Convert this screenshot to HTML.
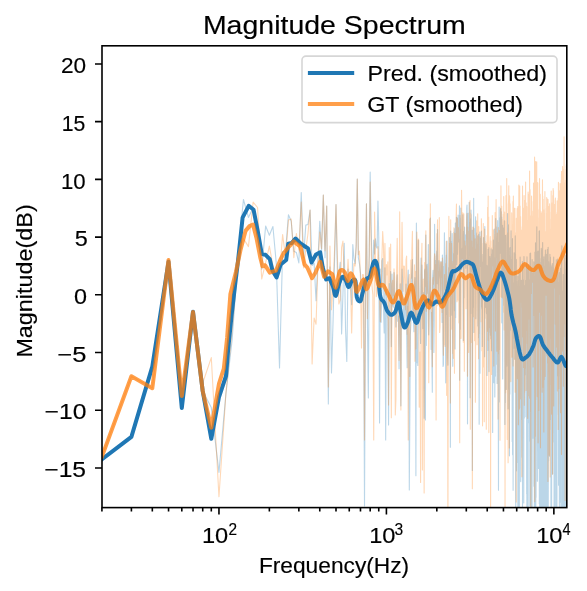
<!DOCTYPE html><html><head><meta charset="utf-8"><style>html,body{margin:0;padding:0;background:#fff;overflow:hidden}svg{display:block}</style></head><body><div style="will-change:transform"><svg width="587" height="591" viewBox="0 0 587 591">
<defs><clipPath id="ax"><rect x="102.0" y="45.8" width="464.8" height="461.8"/></clipPath></defs>
<rect width="587" height="591" fill="#fff"/>
<g clip-path="url(#ax)">
<g opacity="0.3"><polyline fill="none" stroke="#1f77b4" stroke-width="1.1" stroke-linejoin="round" points="101.92,459.30 131.40,436.89 152.32,366.44 168.55,262.38 181.81,407.90 193.02,311.98 202.73,391.00 211.30,407.60 218.96,472.40 225.89,394.00 232.22,339.07 238.04,256.46 243.43,199.50 248.45,217.43 253.14,207.63 257.55,226.02 261.71,269.11 265.64,226.00 269.37,235.22 272.92,226.50 276.30,263.70 279.53,368.00 282.63,251.49 285.60,251.00 288.45,214.80 291.19,221.18 293.84,251.23 296.39,252.44 298.85,262.96 301.24,192.50 303.55,257.50 305.79,225.10 307.96,224.52 310.06,210.00 312.11,265.54 314.11,263.11 316.04,300.65 317.93,260.41 319.77,221.37 321.57,251.11 323.32,195.00 325.03,257.67 326.71,206.00 328.34,404.00 329.94,266.91 331.50,373.00 333.03,322.41 334.53,261.40 336.00,204.50 337.44,276.94 338.85,273.87 340.24,262.35 341.60,334.00 342.93,294.86 344.24,243.38 345.53,328.43 346.80,361.49 348.04,269.12 349.26,289.01 350.46,281.71 351.65,304.79 352.81,244.62 353.95,258.57 355.08,263.65 356.19,244.35 357.29,179.00 358.36,257.60 359.43,263.56 360.47,272.83 361.50,289.02 362.52,282.64 363.52,277.89 364.51,506.00 365.49,298.33 366.45,203.70 367.40,317.83 368.34,398.00 369.27,246.47 370.18,172.00 371.09,224.93 371.98,260.55 372.86,269.85 373.73,240.15 374.59,254.09 375.44,238.84 376.28,247.04 377.11,248.14 377.94,201.00 378.75,236.74 379.55,423.00 380.35,268.97 381.13,322.22 381.91,260.81 382.68,258.55 383.44,306.56 384.19,333.01 384.94,267.68 385.68,440.00 386.41,289.02 387.13,314.34 387.85,318.91 388.56,424.98 389.26,283.60 389.96,295.29 390.65,271.58 391.33,346.58 392.01,274.03 392.68,304.88 393.34,307.16 394.00,272.50 394.65,300.50 395.30,301.22 395.94,326.90 396.57,284.23 397.20,274.91 397.83,321.29 398.45,316.06 399.06,368.78 399.67,306.93 400.27,283.70 400.87,405.84 401.46,304.20 402.05,269.10 402.64,280.01 403.22,327.68 403.79,323.31 404.36,297.86 404.93,328.41 405.49,306.39 406.05,284.06 406.60,324.65 407.15,367.72 407.69,281.77 408.23,270.09 408.77,300.34 409.30,490.00 409.83,413.12 410.36,334.52 410.88,323.37 411.40,279.39 411.91,269.05 412.42,259.49 412.93,314.37 413.43,318.90 413.93,331.74 414.43,284.96 414.92,277.61 415.41,293.59 415.90,475.75 416.38,223.00 416.86,362.71 417.34,351.12 417.81,365.40 418.28,240.37 418.75,282.25 419.21,305.28 419.68,319.62 420.13,324.04 420.59,343.39 421.04,258.12 421.49,303.18 421.94,265.15 422.39,291.14 422.83,328.59 423.27,307.23 423.70,292.43 424.14,418.16 424.57,270.93 425.00,269.05 425.43,420.00 425.85,235.09 426.27,345.52 426.69,320.19 427.11,264.42 427.52,293.35 427.93,279.33 428.34,244.62 428.75,334.83 429.16,305.76 429.56,298.73 429.96,274.05 430.36,218.10 430.75,281.86 431.15,349.43 431.54,312.50 431.93,359.66 432.32,392.17 432.70,276.38 433.09,270.19 433.47,283.67 433.85,352.53 434.23,320.70 434.60,224.33 434.98,280.62 435.35,260.27 435.72,300.37 436.09,303.48 436.45,256.94 436.82,251.04 437.18,283.66 437.54,229.44 437.90,274.45 438.26,296.02 438.61,270.61 438.97,260.60 439.32,265.59 439.67,276.55 440.02,279.72 440.37,296.80 440.71,263.86 441.05,261.21 441.40,269.69 441.74,291.11 442.08,322.41 442.41,255.08 442.75,262.02 443.08,366.41 443.42,364.80 443.75,266.40 444.08,289.21 444.41,232.79 444.73,252.76 445.06,264.26 445.38,312.12 445.71,382.84 446.03,353.73 446.35,255.32 446.66,314.38 446.98,241.04 447.30,278.12 447.61,356.61 447.92,365.13 448.24,284.85 448.55,267.66 448.85,274.07 449.16,261.85 449.47,237.54 449.77,293.90 450.08,241.84 450.38,447.32 450.68,230.98 450.98,276.31 451.28,270.94 451.58,241.67 451.87,315.32 452.17,233.57 452.46,254.05 452.75,366.27 453.05,309.44 453.34,253.68 453.62,291.18 453.91,260.13 454.20,232.29 454.49,310.69 454.77,228.87 455.05,348.97 455.34,223.42 455.62,317.59 455.90,222.43 456.18,233.61 456.45,217.37 456.73,264.58 457.01,259.22 457.28,217.94 457.56,254.20 457.83,241.83 458.10,215.07 458.37,230.25 458.64,242.00 458.91,239.42 459.18,231.12 459.45,205.71 459.71,380.20 459.98,218.10 460.24,329.22 460.50,273.79 460.77,207.98 461.03,227.10 461.29,260.42 461.55,269.46 461.80,249.78 462.06,248.72 462.32,255.65 462.57,261.81 462.83,214.73 463.08,252.66 463.34,340.45 463.59,237.72 463.84,297.86 464.09,231.26 464.34,265.05 464.59,227.08 464.83,264.52 465.08,248.11 465.33,234.80 465.57,235.59 465.82,268.13 466.06,239.20 466.30,238.42 466.55,231.10 466.79,207.75 467.03,204.94 467.27,248.42 467.51,423.87 467.74,241.53 467.98,247.09 468.22,213.27 468.45,262.58 468.69,264.92 468.92,238.45 469.16,202.28 469.39,252.08 469.62,232.89 469.85,222.61 470.08,397.69 470.31,351.94 470.54,218.72 470.77,313.39 471.00,210.07 471.22,221.21 471.45,264.78 471.68,266.54 471.90,271.52 472.12,230.42 472.35,470.53 472.57,241.75 472.79,307.31 473.01,240.83 473.24,227.00 473.46,252.69 473.67,198.28 473.89,332.41 474.11,228.43 474.33,256.13 474.55,256.36 474.76,254.05 474.98,238.73 475.19,266.43 475.41,229.23 475.62,216.78 475.83,318.77 476.05,232.71 476.26,233.88 476.47,243.32 476.68,272.78 476.89,255.45 477.10,258.49 477.31,244.33 477.51,262.20 477.72,235.75 477.93,326.00 478.13,289.31 478.34,271.74 478.55,337.63 478.75,234.24 478.95,311.68 479.16,424.19 479.36,310.42 479.56,316.24 479.76,231.98 479.97,373.16 480.17,252.88 480.37,264.13 480.57,266.55 480.76,238.40 480.96,242.30 481.16,244.16 481.36,231.00 481.56,306.94 481.75,302.06 481.95,309.08 482.14,262.28 482.34,346.47 482.53,276.24 482.73,269.05 482.92,254.22 483.11,275.03 483.30,295.24 483.49,237.51 483.69,274.79 483.88,262.50 484.07,283.69 484.26,292.03 484.45,243.09 484.63,356.76 484.82,226.62 485.01,274.15 485.20,276.68 485.38,296.57 485.57,268.20 485.76,307.36 485.94,251.35 486.13,243.97 486.31,295.67 486.49,313.73 486.68,299.31 486.86,265.71 487.04,375.51 487.22,265.80 487.41,303.65 487.59,333.10 487.77,350.41 487.95,283.89 488.13,249.21 488.31,270.38 488.49,259.70 488.67,276.36 488.84,247.49 489.02,371.61 489.20,281.11 489.37,284.05 489.55,332.31 489.73,309.56 489.90,256.50 490.08,315.31 490.25,258.22 490.43,335.16 490.60,261.60 490.77,263.30 490.95,338.77 491.12,248.75 491.29,284.54 491.46,340.10 491.63,350.66 491.80,292.06 491.98,261.28 492.15,254.13 492.31,288.28 492.48,249.77 492.65,432.43 492.82,301.87 492.99,294.56 493.16,268.54 493.33,240.12 493.49,246.31 493.66,291.05 493.82,382.71 493.99,249.14 494.16,354.64 494.32,229.10 494.49,348.50 494.65,272.81 494.81,396.90 494.98,364.65 495.14,257.92 495.30,260.23 495.47,376.08 495.63,250.36 495.79,218.63 495.95,244.76 496.11,364.24 496.27,226.78 496.43,259.16 496.59,267.50 496.75,238.63 496.91,237.99 497.07,383.47 497.23,248.35 497.39,254.56 497.55,228.12 497.70,220.67 497.86,279.58 498.02,242.23 498.17,264.19 498.33,428.77 498.49,490.23 498.64,308.96 498.80,354.21 498.95,275.99 499.11,207.09 499.26,401.94 499.42,217.65 499.57,252.46 499.72,246.19 499.88,242.24 500.03,236.80 500.18,253.16 500.33,241.15 500.48,228.93 500.64,208.23 500.79,230.86 500.94,256.02 501.09,261.38 501.24,211.68 501.39,246.33 501.54,260.84 501.69,216.96 501.83,322.84 501.98,285.05 502.13,277.41 502.28,320.26 502.43,288.59 502.57,225.31 502.72,378.99 502.87,284.06 503.01,303.19 503.16,305.25 503.31,228.10 503.45,285.60 503.60,239.69 503.74,244.96 503.89,276.22 504.03,230.04 504.18,232.06 504.32,220.71 504.46,247.56 504.61,244.86 504.75,250.26 504.89,424.53 505.04,390.61 505.18,273.19 505.32,402.51 505.46,235.39 505.60,238.22 505.74,252.30 505.88,348.72 506.02,274.58 506.16,389.57 506.30,302.88 506.44,271.90 506.58,259.93 506.72,299.77 506.86,366.12 507.00,234.85 507.14,245.32 507.28,239.39 507.42,241.87 507.55,213.52 507.69,335.07 507.83,254.34 507.96,273.33 508.10,408.83 508.24,231.24 508.37,224.79 508.51,233.36 508.64,261.71 508.78,256.99 508.91,247.92 509.05,285.08 509.18,389.37 509.32,282.35 509.45,455.83 509.59,255.66 509.72,292.80 509.85,394.01 509.99,328.24 510.12,247.47 510.25,260.00 510.38,265.65 510.52,330.21 510.65,248.44 510.78,325.40 510.91,263.11 511.04,230.77 511.17,263.25 511.30,269.44 511.43,283.49 511.56,259.26 511.69,307.66 511.82,281.59 511.95,263.25 512.08,309.87 512.21,441.54 512.34,320.26 512.47,238.64 512.60,454.67 512.73,274.70 512.85,424.98 512.98,328.86 513.11,490.14 513.24,343.48 513.36,302.28 513.49,282.71 513.62,311.15 513.74,333.70 513.87,348.24 513.99,297.63 514.12,252.81 514.25,343.22 514.37,294.31 514.50,312.12 514.62,267.54 514.75,278.89 514.87,359.08 514.99,306.70 515.12,320.56 515.24,235.69 515.37,258.17 515.49,254.12 515.61,304.94 515.74,540.00 515.86,258.95 515.98,429.13 516.10,368.08 516.22,375.26 516.35,259.44 516.47,470.85 516.59,280.94 516.71,288.43 516.83,462.55 516.95,383.50 517.07,408.12 517.19,289.02 517.31,291.06 517.44,327.89 517.55,298.36 517.67,360.33 517.79,276.02 517.91,540.00 518.03,294.25 518.15,280.29 518.27,290.29 518.39,346.37 518.51,399.19 518.63,338.00 518.74,326.76 518.86,540.00 518.98,271.65 519.10,355.60 519.21,354.17 519.33,540.00 519.45,336.91 519.56,327.19 519.68,324.72 519.80,332.07 519.91,314.21 520.03,407.42 520.14,257.00 520.26,268.20 520.37,286.10 520.49,346.69 520.61,356.35 520.72,481.61 520.83,429.16 520.95,294.72 521.06,323.20 521.18,316.29 521.29,395.14 521.40,280.40 521.52,301.28 521.63,419.30 521.74,317.58 521.86,302.81 521.97,302.58 522.08,384.39 522.20,457.35 522.31,287.44 522.42,261.48 522.53,533.39 522.64,282.46 522.76,340.86 522.87,374.53 522.98,339.56 523.09,280.04 523.20,415.55 523.31,347.01 523.42,317.49 523.53,285.71 523.64,379.25 523.75,502.99 523.86,303.34 523.97,256.55 524.08,269.19 524.19,328.89 524.30,418.10 524.41,374.28 524.52,319.45 524.63,328.43 524.74,285.82 524.84,294.64 524.95,374.72 525.06,291.95 525.17,333.51 525.28,358.02 525.38,352.49 525.49,305.82 525.60,280.24 525.71,343.57 525.81,305.96 525.92,416.72 526.03,267.73 526.13,263.87 526.24,335.95 526.35,272.91 526.45,316.73 526.56,355.77 526.66,493.77 526.77,332.55 526.88,535.78 526.98,256.91 527.09,346.61 527.19,517.98 527.30,284.26 527.40,510.29 527.50,485.45 527.61,270.41 527.71,268.36 527.82,297.17 527.92,320.34 528.03,519.22 528.13,540.00 528.23,292.02 528.34,335.46 528.44,302.24 528.54,264.83 528.65,273.57 528.75,422.77 528.85,310.99 528.95,290.20 529.06,324.07 529.16,279.83 529.26,291.27 529.36,296.24 529.46,322.65 529.57,441.29 529.67,288.84 529.77,344.38 529.87,505.89 529.97,253.64 530.07,405.51 530.17,390.10 530.27,391.78 530.37,372.87 530.47,504.71 530.57,253.12 530.67,282.66 530.77,467.11 530.87,492.09 530.97,301.16 531.07,538.84 531.17,401.15 531.27,320.29 531.37,416.72 531.47,365.73 531.57,284.28 531.67,267.85 531.77,287.03 531.86,295.61 531.96,325.45 532.06,540.00 532.16,259.66 532.26,324.30 532.35,326.64 532.45,326.83 532.55,360.39 532.65,284.69 532.74,369.25 532.84,404.67 532.94,409.79 533.04,273.08 533.13,438.26 533.23,291.07 533.33,323.53 533.42,295.12 533.52,271.67 533.61,275.69 533.71,305.97 533.81,261.90 533.90,486.20 534.00,324.89 534.09,410.20 534.19,381.14 534.28,296.01 534.38,540.00 534.47,316.87 534.57,337.84 534.66,502.52 534.76,294.87 534.85,540.00 534.95,252.12 535.04,348.82 535.14,274.79 535.23,540.00 535.32,350.54 535.42,341.53 535.51,242.72 535.60,364.78 535.70,373.01 535.79,540.00 535.88,313.67 535.98,360.67 536.07,497.15 536.16,252.37 536.26,400.12 536.35,317.68 536.44,337.93 536.53,295.73 536.63,253.56 536.72,250.77 536.81,226.74 536.90,306.31 536.99,251.50 537.08,318.29 537.18,335.55 537.27,310.67 537.36,481.15 537.45,389.88 537.54,289.68 537.63,270.90 537.72,304.85 537.81,335.45 537.90,444.77 538.00,277.24 538.09,251.10 538.18,366.44 538.27,284.83 538.36,350.38 538.45,252.82 538.54,468.39 538.63,437.25 538.72,356.33 538.80,254.84 538.89,294.99 538.98,266.94 539.07,427.92 539.16,230.99 539.25,283.71 539.34,503.71 539.43,230.73 539.52,461.13 539.61,382.36 539.69,540.00 539.78,270.25 539.87,540.00 539.96,489.64 540.05,339.46 540.13,279.69 540.22,319.17 540.31,278.53 540.40,309.23 540.48,491.84 540.57,305.72 540.66,262.26 540.75,321.76 540.83,337.36 540.92,258.46 541.01,521.70 541.09,396.05 541.18,252.94 541.27,248.40 541.35,285.98 541.44,351.83 541.53,520.36 541.61,369.08 541.70,326.51 541.78,342.51 541.87,540.00 541.96,409.30 542.04,250.08 542.13,540.00 542.21,288.14 542.30,350.36 542.38,310.94 542.47,316.07 542.55,283.50 542.64,242.56 542.72,284.52 542.81,356.85 542.89,284.64 542.98,480.72 543.06,363.48 543.15,540.00 543.23,259.66 543.31,335.77 543.40,363.58 543.48,493.85 543.57,292.03 543.65,534.55 543.73,287.53 543.82,301.50 543.90,256.78 543.98,300.40 544.07,280.62 544.15,344.59 544.23,399.49 544.32,426.06 544.40,272.69 544.48,452.70 544.56,266.46 544.65,384.20 544.73,540.00 544.81,293.37 544.89,380.62 544.98,334.05 545.06,279.71 545.14,254.50 545.22,301.59 545.30,346.02 545.39,250.12 545.47,323.27 545.55,399.22 545.63,540.00 545.71,319.28 545.79,361.27 545.87,301.79 545.96,523.16 546.04,433.07 546.12,254.33 546.20,344.24 546.28,399.48 546.36,500.73 546.44,540.00 546.52,302.50 546.60,340.00 546.68,540.00 546.76,310.00 546.84,298.40 546.92,308.81 547.00,260.86 547.08,276.68 547.16,298.96 547.24,263.03 547.32,249.59 547.40,258.18 547.48,283.77 547.56,273.39 547.64,540.00 547.72,270.86 547.80,322.83 547.88,391.32 547.95,375.65 548.03,338.95 548.11,247.33 548.19,264.25 548.27,540.00 548.35,271.43 548.43,263.22 548.50,459.27 548.58,461.11 548.66,261.65 548.74,263.41 548.82,273.45 548.89,281.87 548.97,275.19 549.05,314.65 549.13,297.36 549.21,360.95 549.28,348.12 549.36,414.49 549.44,456.24 549.51,319.48 549.59,429.52 549.67,361.63 549.75,268.83 549.82,370.33 549.90,254.37 549.98,287.07 550.05,257.89 550.13,314.18 550.21,288.17 550.28,419.49 550.36,304.90 550.44,256.99 550.51,373.78 550.59,343.53 550.66,395.73 550.74,351.98 550.82,265.13 550.89,284.04 550.97,540.00 551.04,465.28 551.12,442.60 551.19,305.55 551.27,320.22 551.34,329.09 551.42,269.88 551.49,540.00 551.57,540.00 551.64,494.97 551.72,274.18 551.79,287.36 551.87,288.09 551.94,266.67 552.02,467.25 552.09,311.68 552.17,305.82 552.24,266.47 552.32,263.58 552.39,265.13 552.46,280.69 552.54,313.77 552.61,474.00 552.69,304.91 552.76,390.09 552.83,322.69 552.91,441.94 552.98,279.53 553.06,284.36 553.13,267.95 553.20,377.91 553.28,299.70 553.35,392.84 553.42,319.07 553.50,326.26 553.57,432.33 553.64,315.94 553.71,257.17 553.79,346.35 553.86,272.93 553.93,374.71 554.01,289.01 554.08,540.00 554.15,273.79 554.22,313.13 554.30,535.00 554.37,416.32 554.44,539.41 554.51,403.18 554.58,453.71 554.66,354.05 554.73,309.68 554.80,356.59 554.87,341.31 554.94,278.23 555.01,353.99 555.09,280.10 555.16,313.44 555.23,298.98 555.30,475.61 555.37,373.29 555.44,295.72 555.51,341.19 555.58,454.10 555.66,516.20 555.73,403.76 555.80,294.71 555.87,298.60 555.94,352.82 556.01,425.91 556.08,268.97 556.15,518.23 556.22,332.10 556.29,259.74 556.36,312.73 556.43,283.16 556.50,347.70 556.57,311.79 556.64,540.00 556.71,269.79 556.78,276.63 556.85,285.47 556.92,540.00 556.99,407.55 557.06,331.32 557.13,274.06 557.20,316.64 557.27,268.25 557.34,276.05 557.41,370.66 557.48,307.24 557.55,375.75 557.62,259.08 557.68,281.64 557.75,296.54 557.82,341.64 557.89,338.72 557.96,269.98 558.03,284.85 558.10,274.52 558.17,320.48 558.23,310.19 558.30,366.75 558.37,282.61 558.44,414.77 558.51,285.44 558.58,485.29 558.64,304.95 558.71,356.82 558.78,332.60 558.85,387.42 558.92,299.29 558.98,354.85 559.05,417.11 559.12,379.23 559.19,288.86 559.25,342.16 559.32,272.49 559.39,540.00 559.46,368.06 559.52,284.56 559.59,277.35 559.66,333.82 559.73,380.90 559.79,302.21 559.86,357.40 559.93,320.18 559.99,379.01 560.06,502.09 560.13,325.64 560.19,274.85 560.26,268.32 560.33,404.23 560.39,277.31 560.46,311.81 560.53,483.15 560.59,337.16 560.66,311.43 560.73,326.17 560.79,311.71 560.86,301.23 560.92,540.00 560.99,333.48 561.06,401.66 561.12,384.99 561.19,252.96 561.25,261.33 561.32,364.39 561.38,290.65 561.45,356.69 561.51,351.51 561.58,268.53 561.65,438.47 561.71,414.97 561.78,279.54 561.84,245.68 561.91,400.25 561.97,280.72 562.04,368.67 562.10,535.88 562.17,493.77 562.23,540.00 562.30,326.90 562.36,376.01 562.43,375.22 562.49,336.04 562.55,337.43 562.62,296.69 562.68,334.52 562.75,443.80 562.81,325.05 562.88,401.86 562.94,290.90 563.00,495.24 563.07,399.74 563.13,336.51 563.20,379.76 563.26,540.00 563.32,274.62 563.39,295.31 563.45,540.00 563.52,439.83 563.58,335.13 563.64,293.57 563.71,377.95 563.77,290.79 563.83,302.39 563.90,299.07 563.96,460.08 564.02,540.00 564.09,416.90 564.15,267.66 564.21,336.40 564.28,250.83 564.34,296.82 564.40,403.03 564.47,540.00 564.53,387.98 564.59,258.36 564.65,308.04 564.72,268.92 564.78,345.39 564.84,399.07 564.90,308.37 564.97,513.03 565.03,336.33 565.09,371.19 565.15,300.43 565.22,307.58 565.28,540.00 565.34,314.67 565.40,281.81 565.46,489.12 565.53,441.60 565.59,313.39 565.65,284.75 565.71,434.75 565.77,540.00 565.83,261.92 565.90,311.63 565.96,255.53 566.02,369.62 566.08,502.83 566.14,299.81 566.20,271.65 566.27,322.20 566.33,410.77 566.39,393.69 566.45,362.98 566.51,524.60 566.57,304.19 566.63,315.00 566.69,423.01 566.75,277.09 566.82,525.77 566.88,310.96 566.94,300.16 567.00,432.46 567.06,413.31 567.12,308.86"/></g>
<g opacity="0.3"><polyline fill="none" stroke="#ff7f0e" stroke-width="1.1" stroke-linejoin="round" points="101.92,456.50 131.40,376.20 152.32,388.00 168.55,260.64 181.81,395.91 193.02,312.18 202.73,383.00 211.30,357.60 218.96,496.80 225.89,394.00 232.22,329.68 238.04,260.15 243.43,238.45 248.45,246.61 253.14,202.10 257.55,207.50 261.71,279.04 265.64,262.66 269.37,246.07 272.92,265.85 276.30,273.97 279.53,273.82 282.63,234.60 285.60,257.55 288.45,220.00 291.19,218.98 293.84,257.64 296.39,233.48 298.85,249.87 301.24,202.00 303.55,268.04 305.79,249.93 307.96,233.79 310.06,210.00 312.11,364.00 314.11,318.02 316.04,324.22 317.93,265.59 319.77,232.11 321.57,248.57 323.32,195.00 325.03,250.63 326.71,206.00 328.34,387.00 329.94,245.93 331.50,309.72 333.03,286.61 334.53,250.46 336.00,204.50 337.44,258.86 338.85,303.99 340.24,299.79 341.60,247.66 342.93,241.14 344.24,275.19 345.53,279.13 346.80,284.25 348.04,259.42 349.26,282.20 350.46,280.75 351.65,333.05 352.81,287.40 353.95,263.57 355.08,266.10 356.19,247.71 357.29,179.00 358.36,254.68 359.43,251.03 360.47,278.04 361.50,348.03 362.52,274.56 363.52,274.72 364.51,440.00 365.49,267.26 366.45,203.70 367.40,318.66 368.34,275.53 369.27,255.17 370.18,182.00 371.09,243.81 371.98,285.53 372.86,294.86 373.73,440.00 374.59,212.00 375.44,259.69 376.28,296.73 377.11,293.28 377.94,246.66 378.75,261.15 379.55,300.36 380.35,321.82 381.13,298.79 381.91,257.29 382.68,231.62 383.44,245.12 384.19,285.75 384.94,243.40 385.68,294.97 386.41,264.61 387.13,275.04 387.85,261.82 388.56,405.00 389.26,247.48 389.96,282.04 390.65,243.95 391.33,417.65 392.01,283.89 392.68,280.41 393.34,295.97 394.00,268.81 394.65,277.10 395.30,415.00 395.94,398.86 396.57,276.80 397.20,238.36 397.83,292.85 398.45,317.86 399.06,360.40 399.67,211.88 400.27,296.94 400.87,410.00 401.46,278.48 402.05,222.39 402.64,265.11 403.22,291.26 403.79,266.09 404.36,266.29 404.93,288.30 405.49,309.67 406.05,259.88 406.60,256.09 407.15,334.28 407.69,306.22 408.23,440.00 408.77,280.66 409.30,274.60 409.83,376.45 410.36,297.92 410.88,259.98 411.40,278.25 411.91,249.24 412.42,231.38 412.93,316.09 413.43,311.94 413.93,307.30 414.43,264.72 414.92,361.25 415.41,271.32 415.90,348.87 416.38,266.15 416.86,232.00 417.34,251.46 417.81,314.71 418.28,239.04 418.75,240.40 419.21,407.11 419.68,401.70 420.13,352.11 420.59,482.44 421.04,275.10 421.49,260.51 421.94,243.22 422.39,470.00 422.83,316.37 423.27,278.97 423.70,354.86 424.14,493.00 424.57,262.50 425.00,286.77 425.43,244.43 425.85,230.68 426.27,311.30 426.69,265.77 427.11,272.27 427.52,289.67 427.93,294.50 428.34,307.95 428.75,382.65 429.16,304.71 429.56,219.00 429.96,306.38 430.36,203.92 430.75,307.49 431.15,300.64 431.54,315.15 431.93,328.01 432.32,366.77 432.70,280.63 433.09,277.48 433.47,284.13 433.85,275.28 434.23,260.36 434.60,253.73 434.98,256.32 435.35,296.33 435.72,264.74 436.09,420.00 436.45,291.62 436.82,233.46 437.18,242.03 437.54,219.81 437.90,305.71 438.26,297.52 438.61,271.47 438.97,281.91 439.32,217.65 439.67,332.40 440.02,326.23 440.37,288.36 440.71,262.16 441.05,273.26 441.40,277.32 441.74,262.42 442.08,312.48 442.41,257.98 442.75,269.06 443.08,340.39 443.42,355.20 443.75,326.54 444.08,344.67 444.41,274.60 444.73,302.51 445.06,346.56 445.38,315.46 445.71,263.61 446.03,296.28 446.35,241.19 446.66,395.34 446.98,388.38 447.30,282.16 447.61,399.28 447.92,540.00 448.24,356.52 448.55,341.73 448.85,216.32 449.16,285.74 449.47,243.36 449.77,316.52 450.08,284.31 450.38,403.02 450.68,219.92 450.98,299.06 451.28,329.19 451.58,243.39 451.87,303.34 452.17,261.27 452.46,265.07 452.75,353.37 453.05,284.61 453.34,358.35 453.62,244.84 453.91,227.68 454.20,277.11 454.49,373.22 454.77,242.01 455.05,233.24 455.34,273.02 455.62,240.36 455.90,257.69 456.18,216.13 456.45,203.95 456.73,275.82 457.01,301.67 457.28,218.04 457.56,222.00 457.83,291.90 458.10,300.10 458.37,227.49 458.64,235.72 458.91,322.86 459.18,239.09 459.45,280.08 459.71,442.70 459.98,215.59 460.24,239.97 460.50,229.47 460.77,338.48 461.03,338.28 461.29,244.63 461.55,190.28 461.80,215.04 462.06,258.81 462.32,220.89 462.57,231.95 462.83,212.81 463.08,226.27 463.34,342.21 463.59,323.50 463.84,213.69 464.09,249.85 464.34,371.31 464.59,309.87 464.83,241.06 465.08,280.40 465.33,245.45 465.57,271.84 465.82,279.51 466.06,308.73 466.30,268.26 466.55,235.58 466.79,217.27 467.03,213.27 467.27,241.00 467.51,376.21 467.74,227.29 467.98,351.35 468.22,231.06 468.45,338.44 468.69,352.45 468.92,339.47 469.16,274.46 469.39,257.88 469.62,201.96 469.85,247.27 470.08,200.66 470.31,429.32 470.54,213.16 470.77,248.84 471.00,214.48 471.22,274.40 471.45,342.48 471.68,241.06 471.90,264.89 472.12,247.36 472.35,488.76 472.57,382.47 472.79,342.56 473.01,227.07 473.24,227.15 473.46,316.70 473.67,228.09 473.89,260.04 474.11,235.41 474.33,245.05 474.55,340.81 474.76,270.61 474.98,245.60 475.19,238.92 475.41,402.23 475.62,337.49 475.83,289.68 476.05,249.00 476.26,272.79 476.47,275.40 476.68,220.85 476.89,304.36 477.10,344.70 477.31,240.78 477.51,248.77 477.72,213.69 477.93,276.88 478.13,233.44 478.34,286.83 478.55,358.70 478.75,226.65 478.95,333.52 479.16,318.47 479.36,298.23 479.56,295.40 479.76,285.50 479.97,275.58 480.17,236.82 480.37,251.70 480.57,283.94 480.76,294.85 480.96,236.50 481.16,321.67 481.36,218.76 481.56,233.35 481.75,262.39 481.95,350.77 482.14,273.20 482.34,259.49 482.53,425.83 482.73,284.41 482.92,243.40 483.11,264.71 483.30,223.45 483.49,363.87 483.69,366.91 483.88,270.05 484.07,293.18 484.26,421.71 484.45,259.67 484.63,229.10 484.82,273.18 485.01,241.41 485.20,255.44 485.38,311.99 485.57,289.58 485.76,318.37 485.94,243.49 486.13,259.34 486.31,429.22 486.49,270.19 486.68,242.33 486.86,254.47 487.04,235.54 487.22,316.39 487.41,331.12 487.59,207.36 487.77,256.56 487.95,309.43 488.13,196.06 488.31,340.53 488.49,320.46 488.67,217.06 488.84,432.60 489.02,295.57 489.20,245.41 489.37,254.50 489.55,260.89 489.73,327.76 489.90,246.63 490.08,241.66 490.25,236.48 490.43,254.17 490.60,540.00 490.77,240.79 490.95,324.08 491.12,263.02 491.29,360.22 491.46,319.79 491.63,374.55 491.80,303.02 491.98,247.37 492.15,273.74 492.31,215.64 492.48,265.97 492.65,228.97 492.82,241.24 492.99,240.32 493.16,250.13 493.33,230.11 493.49,259.12 493.66,270.79 493.82,365.89 493.99,264.69 494.16,254.28 494.32,282.23 494.49,256.43 494.65,241.96 494.81,234.34 494.98,235.76 495.14,212.49 495.30,237.49 495.47,331.03 495.63,222.05 495.79,257.38 495.95,225.81 496.11,199.67 496.27,245.32 496.43,251.49 496.59,253.89 496.75,245.16 496.91,351.29 497.07,245.22 497.23,284.36 497.39,233.04 497.55,239.12 497.70,261.78 497.86,294.33 498.02,419.12 498.17,300.11 498.33,227.46 498.49,353.87 498.64,261.71 498.80,240.67 498.95,337.26 499.11,257.63 499.26,230.58 499.42,309.30 499.57,349.62 499.72,288.23 499.88,334.94 500.03,440.32 500.18,237.76 500.33,209.87 500.48,222.02 500.64,266.17 500.79,257.93 500.94,185.83 501.09,209.94 501.24,296.73 501.39,207.61 501.54,297.25 501.69,206.24 501.83,272.31 501.98,219.23 502.13,223.22 502.28,283.57 502.43,223.10 502.57,256.82 502.72,230.36 502.87,297.98 503.01,229.94 503.16,241.74 503.31,214.22 503.45,268.88 503.60,312.29 503.74,196.50 503.89,285.10 504.03,303.55 504.18,330.03 504.32,225.80 504.46,239.39 504.61,212.01 504.75,243.29 504.89,221.09 505.04,540.00 505.18,253.34 505.32,232.77 505.46,234.34 505.60,392.79 505.74,301.06 505.88,364.48 506.02,195.43 506.16,289.88 506.30,232.12 506.44,228.13 506.58,310.99 506.72,178.59 506.86,389.42 507.00,272.27 507.14,367.95 507.28,439.46 507.42,400.97 507.55,233.10 507.69,260.05 507.83,239.99 507.96,335.29 508.10,462.76 508.24,287.85 508.37,204.59 508.51,202.65 508.64,199.62 508.78,185.79 508.91,267.15 509.05,235.33 509.18,218.16 509.32,448.07 509.45,254.71 509.59,195.89 509.72,204.62 509.85,275.96 509.99,260.18 510.12,203.90 510.25,221.58 510.38,264.39 510.52,262.12 510.65,257.06 510.78,381.60 510.91,334.27 511.04,264.90 511.17,339.23 511.30,280.64 511.43,264.01 511.56,273.39 511.69,212.81 511.82,250.62 511.95,357.25 512.08,259.21 512.21,290.59 512.34,259.93 512.47,349.37 512.60,224.27 512.73,284.97 512.85,234.68 512.98,201.45 513.11,365.94 513.24,254.98 513.36,195.95 513.49,224.50 513.62,324.18 513.74,330.89 513.87,222.38 513.99,338.27 514.12,231.89 514.25,220.10 514.37,208.38 514.50,359.42 514.62,228.81 514.75,331.03 514.87,208.20 514.99,228.48 515.12,392.21 515.24,335.41 515.37,265.67 515.49,232.92 515.61,348.94 515.74,242.96 515.86,291.82 515.98,263.04 516.10,327.71 516.22,501.88 516.35,218.36 516.47,343.43 516.59,279.56 516.71,317.10 516.83,219.49 516.95,229.12 517.07,230.91 517.19,208.63 517.31,239.82 517.44,378.70 517.55,251.30 517.67,234.31 517.79,206.65 517.91,291.00 518.03,262.15 518.15,281.55 518.27,238.67 518.39,424.78 518.51,206.43 518.63,297.21 518.74,266.35 518.86,185.08 518.98,205.29 519.10,196.00 519.21,284.33 519.33,324.41 519.45,409.07 519.56,219.05 519.68,186.08 519.80,229.96 519.91,241.44 520.03,256.78 520.14,205.94 520.26,398.84 520.37,288.99 520.49,234.33 520.61,216.66 520.72,227.23 520.83,302.00 520.95,226.68 521.06,293.12 521.18,251.67 521.29,260.18 521.40,245.12 521.52,230.99 521.63,307.49 521.74,256.02 521.86,476.66 521.97,258.80 522.08,312.98 522.20,229.75 522.31,305.46 522.42,336.99 522.53,185.97 522.64,326.35 522.76,252.81 522.87,267.62 522.98,241.84 523.09,232.76 523.20,237.65 523.31,215.97 523.42,246.84 523.53,367.46 523.64,208.10 523.75,282.55 523.86,208.72 523.97,266.41 524.08,195.45 524.19,244.82 524.30,405.29 524.41,211.80 524.52,248.90 524.63,392.27 524.74,257.94 524.84,209.72 524.95,200.50 525.06,210.09 525.17,222.43 525.28,247.22 525.38,301.27 525.49,345.53 525.60,182.08 525.71,368.26 525.81,252.15 525.92,295.89 526.03,390.47 526.13,202.71 526.24,330.40 526.35,247.19 526.45,257.71 526.56,304.60 526.66,220.02 526.77,206.67 526.88,266.85 526.98,234.57 527.09,222.09 527.19,245.58 527.30,343.51 527.40,285.83 527.50,220.26 527.61,331.25 527.71,418.37 527.82,229.39 527.92,292.25 528.03,195.58 528.13,192.12 528.23,395.75 528.34,237.20 528.44,218.01 528.54,306.38 528.65,193.97 528.75,269.30 528.85,300.02 528.95,318.91 529.06,286.93 529.16,214.65 529.26,232.09 529.36,223.73 529.46,267.40 529.57,171.10 529.67,217.00 529.77,398.11 529.87,305.36 529.97,237.45 530.07,189.63 530.17,220.69 530.27,356.33 530.37,311.52 530.47,315.46 530.57,411.86 530.67,286.62 530.77,540.00 530.87,353.04 530.97,216.04 531.07,271.01 531.17,267.88 531.27,233.47 531.37,263.62 531.47,293.38 531.57,196.10 531.67,227.84 531.77,236.20 531.86,236.01 531.96,225.00 532.06,215.93 532.16,217.33 532.26,282.15 532.35,232.76 532.45,242.59 532.55,254.53 532.65,223.09 532.74,232.44 532.84,211.15 532.94,216.85 533.04,263.51 533.13,366.92 533.23,201.46 533.33,297.56 533.42,247.92 533.52,182.99 533.61,220.94 533.71,196.16 533.81,315.49 533.90,295.08 534.00,247.89 534.09,209.98 534.19,192.82 534.28,243.18 534.38,311.08 534.47,204.07 534.57,157.17 534.66,280.74 534.76,501.77 534.85,297.92 534.95,219.07 535.04,266.95 535.14,207.16 535.23,284.05 535.32,436.13 535.42,398.91 535.51,209.34 535.60,161.43 535.70,220.05 535.79,307.44 535.88,224.13 535.98,206.22 536.07,285.18 536.16,240.71 536.26,341.27 536.35,252.39 536.44,292.52 536.53,215.28 536.63,194.01 536.72,161.83 536.81,234.34 536.90,245.88 536.99,210.47 537.08,259.34 537.18,384.95 537.27,396.61 537.36,207.91 537.45,182.65 537.54,216.54 537.63,223.17 537.72,338.40 537.81,182.92 537.90,238.63 538.00,209.49 538.09,442.83 538.18,209.83 538.27,359.66 538.36,266.82 538.45,243.59 538.54,250.10 538.63,283.89 538.72,251.95 538.80,410.42 538.89,313.11 538.98,302.99 539.07,239.25 539.16,302.23 539.25,250.61 539.34,217.78 539.43,273.55 539.52,178.55 539.61,240.37 539.69,312.26 539.78,230.97 539.87,257.42 539.96,215.17 540.05,267.13 540.13,205.25 540.22,194.35 540.31,298.96 540.40,210.66 540.48,447.78 540.57,213.36 540.66,219.28 540.75,251.09 540.83,228.06 540.92,243.55 541.01,315.32 541.09,244.84 541.18,216.71 541.27,239.89 541.35,249.82 541.44,230.05 541.53,213.17 541.61,215.64 541.70,304.42 541.78,243.86 541.87,211.73 541.96,369.43 542.04,322.17 542.13,392.23 542.21,216.27 542.30,234.57 542.38,272.25 542.47,179.83 542.55,208.89 542.64,260.00 542.72,195.97 542.81,292.47 542.89,387.17 542.98,383.46 543.06,244.58 543.15,199.28 543.23,326.98 543.31,354.36 543.40,239.01 543.48,239.41 543.57,243.91 543.65,209.82 543.73,226.11 543.82,431.99 543.90,224.77 543.98,219.44 544.07,302.68 544.15,213.27 544.23,222.61 544.32,379.60 544.40,260.58 544.48,271.74 544.56,235.31 544.65,314.89 544.73,332.28 544.81,230.45 544.89,191.51 544.98,210.30 545.06,208.29 545.14,376.57 545.22,234.53 545.30,246.53 545.39,233.93 545.47,271.64 545.55,244.90 545.63,283.73 545.71,261.79 545.79,257.79 545.87,252.39 545.96,231.53 546.04,255.76 546.12,295.23 546.20,244.89 546.28,256.54 546.36,240.53 546.44,232.05 546.52,213.28 546.60,225.23 546.68,197.49 546.76,269.09 546.84,224.18 546.92,341.69 547.00,355.63 547.08,203.51 547.16,246.48 547.24,227.35 547.32,239.53 547.40,342.90 547.48,199.05 547.56,362.96 547.64,211.20 547.72,253.10 547.80,204.86 547.88,376.83 547.95,481.47 548.03,199.48 548.11,260.21 548.19,234.68 548.27,262.16 548.35,249.28 548.43,254.10 548.50,245.63 548.58,371.50 548.66,335.68 548.74,206.66 548.82,320.69 548.89,229.81 548.97,262.55 549.05,329.39 549.13,307.08 549.21,455.18 549.28,305.86 549.36,207.31 549.44,404.49 549.51,233.92 549.59,203.78 549.67,267.36 549.75,219.31 549.82,386.22 549.90,316.40 549.98,255.10 550.05,246.45 550.13,476.93 550.21,232.28 550.28,384.80 550.36,288.10 550.44,233.06 550.51,338.05 550.59,232.76 550.66,275.09 550.74,229.54 550.82,246.39 550.89,258.75 550.97,212.05 551.04,276.24 551.12,209.59 551.19,191.00 551.27,252.72 551.34,319.30 551.42,292.98 551.49,226.88 551.57,413.00 551.64,414.21 551.72,321.35 551.79,216.72 551.87,268.39 551.94,226.87 552.02,203.14 552.09,203.50 552.17,296.57 552.24,254.65 552.32,228.13 552.39,330.78 552.46,237.39 552.54,474.25 552.61,327.85 552.69,298.84 552.76,195.56 552.83,234.31 552.91,242.22 552.98,233.76 553.06,303.70 553.13,188.59 553.20,230.00 553.28,244.55 553.35,228.78 553.42,375.17 553.50,190.59 553.57,211.17 553.64,257.80 553.71,405.98 553.79,238.79 553.86,238.41 553.93,221.04 554.01,246.62 554.08,217.48 554.15,224.95 554.22,270.42 554.30,287.93 554.37,271.30 554.44,204.60 554.51,235.77 554.58,235.98 554.66,279.77 554.73,220.12 554.80,218.64 554.87,234.74 554.94,248.48 555.01,216.96 555.09,216.77 555.16,199.76 555.23,324.10 555.30,246.86 555.37,198.03 555.44,268.78 555.51,215.21 555.58,255.97 555.66,295.39 555.73,255.74 555.80,362.03 555.87,335.76 555.94,220.26 556.01,237.98 556.08,318.44 556.15,300.05 556.22,260.05 556.29,243.03 556.36,300.31 556.43,263.32 556.50,214.24 556.57,262.88 556.64,296.46 556.71,235.78 556.78,230.18 556.85,212.45 556.92,219.91 556.99,347.18 557.06,245.46 557.13,200.91 557.20,252.00 557.27,243.09 557.34,340.79 557.41,219.11 557.48,390.89 557.55,250.99 557.62,250.63 557.68,245.97 557.75,217.21 557.82,296.23 557.89,210.67 557.96,224.37 558.03,263.59 558.10,344.48 558.17,198.34 558.23,429.49 558.30,239.25 558.37,206.83 558.44,182.41 558.51,198.85 558.58,223.59 558.64,220.05 558.71,190.46 558.78,388.57 558.85,378.46 558.92,209.06 558.98,248.11 559.05,190.87 559.12,259.50 559.19,212.73 559.25,294.19 559.32,275.29 559.39,195.04 559.46,201.65 559.52,226.66 559.59,284.05 559.66,291.48 559.73,283.75 559.79,232.00 559.86,211.80 559.93,212.43 559.99,225.48 560.06,183.62 560.13,234.81 560.19,375.99 560.26,301.07 560.33,278.37 560.39,404.00 560.46,209.53 560.53,412.61 560.59,191.42 560.66,277.55 560.73,319.29 560.79,232.04 560.86,208.26 560.92,206.55 560.99,256.94 561.06,197.83 561.12,200.09 561.19,180.38 561.25,285.37 561.32,211.09 561.38,229.17 561.45,174.22 561.51,454.50 561.58,171.27 561.65,209.75 561.71,223.05 561.78,203.66 561.84,246.08 561.91,234.19 561.97,220.40 562.04,284.26 562.10,190.84 562.17,351.08 562.23,247.92 562.30,217.74 562.36,213.14 562.43,176.79 562.49,310.50 562.55,228.72 562.62,166.58 562.68,224.31 562.75,335.85 562.81,207.58 562.88,169.12 562.94,220.67 563.00,202.48 563.07,216.42 563.13,234.40 563.20,254.18 563.26,246.41 563.32,386.25 563.39,275.99 563.45,234.75 563.52,199.85 563.58,205.31 563.64,238.88 563.71,232.03 563.77,336.44 563.83,235.58 563.90,236.30 563.96,197.46 564.02,191.89 564.09,136.85 564.15,241.82 564.21,216.23 564.28,234.37 564.34,242.43 564.40,203.58 564.47,227.45 564.53,323.86 564.59,281.89 564.65,268.32 564.72,225.18 564.78,310.07 564.84,197.20 564.90,182.87 564.97,269.33 565.03,183.37 565.09,311.08 565.15,500.43 565.22,186.97 565.28,195.17 565.34,299.71 565.40,180.40 565.46,219.16 565.53,251.75 565.59,241.44 565.65,230.20 565.71,272.96 565.77,350.72 565.83,192.05 565.90,169.49 565.96,272.23 566.02,277.97 566.08,188.97 566.14,341.87 566.20,166.06 566.27,227.07 566.33,164.54 566.39,294.86 566.45,438.25 566.51,228.08 566.57,332.41 566.63,194.41 566.69,176.15 566.75,215.95 566.82,491.95 566.88,203.13 566.94,222.84 567.00,230.22 567.06,309.29 567.12,213.74"/></g>
<polyline fill="none" stroke="#1f77b4" stroke-width="4" stroke-linejoin="round" stroke-linecap="square" points="102.0,459.3 131.4,436.9 152.3,366.6 168.5,261.8 181.8,408.0 193.0,311.8 202.7,391.0 211.3,438.8 219.0,397.0 226.0,376.0 228.2,349.0 231.5,316.0 234.8,287.4 238.0,261.0 242.6,217.6 248.7,205.8 253.6,209.8 257.7,230.9 261.8,254.0 265.5,254.8 269.8,259.1 272.5,270.7 276.6,277.5 280.7,264.5 286.2,260.0 288.3,243.6 291.7,243.0 295.5,238.5 300.5,243.5 304.3,246.0 308.0,248.4 311.5,262.5 316.0,254.5 320.2,252.3 322.7,267.3 326.1,279.5 329.5,278.2 332.9,286.3 333.4,288.1 333.9,290.2 334.3,292.4 334.7,294.3 335.2,295.6 335.7,295.9 336.2,295.1 336.8,293.2 337.4,290.8 337.9,288.1 338.5,285.6 339.1,283.6 339.7,282.0 340.2,280.5 340.8,279.2 341.4,278.1 341.9,277.2 342.5,276.8 343.1,276.8 343.7,277.3 344.2,278.0 344.8,279.0 345.4,280.0 345.9,280.9 346.4,281.9 346.8,283.2 347.2,284.6 347.7,285.8 348.1,286.7 348.6,287.0 349.1,286.6 349.7,285.6 350.3,284.3 350.8,282.9 351.4,281.7 352.0,280.9 352.6,280.4 353.2,279.8 353.8,279.5 354.4,279.5 354.9,279.9 355.4,280.9 355.7,282.8 355.9,285.6 356.1,288.8 356.3,292.1 356.5,295.0 356.8,297.2 357.3,298.7 357.8,299.9 358.5,300.7 359.1,301.2 359.7,301.4 360.2,301.3 360.6,300.9 360.9,300.1 361.2,299.1 361.4,297.8 361.8,296.2 362.2,294.5 362.8,292.3 363.4,289.7 364.2,286.7 364.9,283.9 365.6,281.4 366.3,279.5 366.9,278.5 367.5,278.1 368.0,278.1 368.5,278.2 369.1,277.8 369.7,276.8 370.4,274.8 371.0,272.0 371.7,268.9 372.5,265.8 373.1,263.3 373.8,261.8 374.4,261.1 375.0,260.8 375.6,261.1 376.1,262.0 376.7,263.5 377.2,265.9 377.7,269.6 378.1,274.5 378.6,280.2 379.0,286.0 379.5,291.1 380.0,295.0 380.6,297.5 381.3,299.1 382.0,300.1 382.8,300.7 383.5,301.5 384.1,302.5 384.7,303.9 385.2,305.3 385.7,306.8 386.1,308.2 386.6,309.6 387.2,310.7 387.8,311.7 388.5,312.6 389.1,313.5 389.8,314.1 390.5,314.6 391.2,314.8 391.9,314.8 392.6,314.5 393.3,314.1 394.0,313.5 394.7,312.7 395.3,311.7 395.9,310.3 396.4,308.4 397.0,306.4 397.5,304.5 398.0,303.1 398.4,302.5 398.8,302.8 399.1,303.6 399.4,305.0 399.7,306.7 400.0,308.7 400.4,310.7 400.9,313.2 401.5,316.3 402.1,319.6 402.7,322.8 403.4,325.4 404.0,327.0 404.6,327.6 405.2,327.4 405.8,326.6 406.4,325.5 407.0,324.2 407.6,322.9 408.2,321.3 408.7,319.2 409.3,316.9 409.9,314.8 410.5,313.3 411.2,312.7 412.0,313.4 412.8,315.3 413.8,317.7 414.7,320.2 415.5,322.1 416.3,322.9 417.0,322.5 417.6,321.3 418.2,319.5 418.7,317.5 419.3,315.5 419.9,313.7 420.6,312.1 421.2,310.4 421.9,308.8 422.6,307.2 423.3,305.7 424.0,304.5 424.7,303.4 425.3,302.5 426.0,301.6 426.7,301.0 427.3,300.5 428.0,300.4 428.7,300.7 429.4,301.4 430.0,302.4 430.7,303.4 431.4,304.1 432.1,304.5 432.8,304.4 433.5,303.9 434.2,303.2 434.9,302.5 435.5,301.9 436.2,301.5 436.9,301.5 437.5,301.7 438.2,302.0 438.8,302.3 439.4,302.5 440.0,302.5 440.5,302.4 441.0,302.1 441.4,301.8 441.9,301.4 442.4,300.8 442.9,300.0 443.5,299.1 444.2,298.1 444.8,296.9 445.5,295.6 446.3,293.9 447.0,291.8 447.8,289.0 448.6,285.6 449.5,281.8 450.3,278.2 451.1,275.0 451.8,272.7 452.4,271.5 452.8,271.0 453.2,271.0 453.6,271.2 454.0,271.4 454.5,271.3 455.1,270.9 455.8,270.6 456.5,270.2 457.2,269.7 457.9,269.2 458.6,268.6 459.3,267.9 460.0,267.1 460.7,266.2 461.3,265.3 462.0,264.6 462.7,263.9 463.4,263.4 464.1,262.9 464.8,262.4 465.4,262.1 466.1,261.9 466.8,261.8 467.5,261.9 468.2,262.1 468.9,262.4 469.6,262.7 470.3,263.1 470.9,263.5 471.4,263.7 471.9,263.8 472.3,264.0 472.7,264.3 473.1,264.9 473.6,266.0 474.2,267.7 474.8,269.9 475.4,272.3 476.1,275.0 476.8,277.6 477.5,280.0 478.2,282.3 478.9,284.6 479.6,286.9 480.4,289.2 481.1,291.2 481.9,293.0 482.7,294.6 483.5,296.2 484.4,297.6 485.3,298.8 486.1,299.5 487.0,299.8 487.8,299.5 488.7,298.8 489.5,297.7 490.4,296.3 491.2,294.7 492.1,293.0 493.0,291.0 493.9,288.7 494.8,286.2 495.7,283.7 496.5,281.4 497.3,279.4 498.0,277.7 498.6,276.1 499.1,274.7 499.6,273.6 500.2,272.9 500.7,272.6 501.2,272.8 501.8,273.4 502.3,274.4 502.8,275.7 503.4,277.4 504.1,279.4 504.9,281.8 505.8,284.8 506.7,288.1 507.6,291.5 508.5,294.9 509.2,298.1 509.7,301.1 510.1,304.0 510.5,306.9 510.8,309.8 511.2,312.6 511.6,315.3 512.2,318.0 512.8,320.5 513.4,323.0 514.1,325.5 514.8,328.1 515.4,330.7 516.0,333.5 516.5,336.3 517.0,339.2 517.6,342.1 518.1,344.8 518.6,347.3 519.1,349.7 519.6,352.0 520.2,354.2 520.7,356.1 521.2,357.7 521.8,358.8 522.4,359.4 523.1,359.4 523.7,359.1 524.4,358.6 525.0,358.0 525.7,357.5 526.3,357.1 527.0,356.6 527.6,356.0 528.2,355.3 528.9,354.6 529.5,353.7 530.1,352.6 530.8,351.4 531.5,350.1 532.1,348.7 532.7,347.3 533.3,346.0 533.8,344.6 534.2,343.2 534.6,341.8 535.0,340.4 535.4,339.2 535.9,338.3 536.5,337.5 537.1,336.9 537.8,336.4 538.4,336.1 539.1,336.1 539.7,336.4 540.3,337.2 540.8,338.5 541.3,340.0 541.8,341.7 542.3,343.3 542.9,344.7 543.6,345.9 544.3,347.0 545.0,348.0 545.8,349.0 546.6,350.1 547.4,351.1 548.2,352.2 549.1,353.3 549.9,354.4 550.8,355.5 551.6,356.5 552.5,357.5 553.4,358.6 554.2,359.7 555.1,360.8 556.0,361.7 556.8,362.4 557.6,362.6 558.3,362.1 559.0,361.0 559.6,359.6 560.2,358.2 560.8,357.2 561.4,356.9 562.1,357.6 562.8,358.9 563.5,360.6 564.2,362.5 564.8,364.1 565.3,365.2 565.7,365.8 566.0,366.1 566.3,366.1 566.5,366.1 566.7,366.0 566.8,366.0"/>
<g opacity="0.75"><polyline fill="none" stroke="#ff7f0e" stroke-width="4" stroke-linejoin="round" stroke-linecap="square" points="102.0,456.5 131.4,376.2 152.3,388.2 168.5,260.1 181.8,396.0 193.0,312.0 202.7,391.0 211.3,427.6 219.0,383.5 223.8,368.7 227.1,337.9 230.4,294.0 235.9,272.0 240.5,250.0 245.5,230.9 249.5,226.1 253.0,224.5 256.4,237.7 260.4,258.1 262.5,266.3 265.0,265.2 269.8,272.7 275.9,270.7 280.7,259.1 283.4,253.6 289.5,246.1 293.6,241.4 300.4,246.8 304.5,264.5 307.2,267.3 312.0,278.2 315.4,272.7 320.2,261.8 324.1,276.8 328.2,271.3 332.3,274.1 332.9,276.1 333.5,278.9 334.0,282.1 334.5,285.0 335.1,287.0 335.7,287.7 336.3,286.5 337.0,283.8 337.7,280.3 338.4,276.6 339.1,273.4 339.8,271.3 340.6,270.3 341.4,270.0 342.2,270.1 343.0,270.5 343.8,271.2 344.5,272.0 345.1,273.2 345.8,275.0 346.3,277.0 346.9,278.8 347.4,280.3 347.9,280.9 348.4,280.4 348.8,279.1 349.3,277.2 349.7,275.4 350.2,274.0 350.7,273.4 351.3,273.7 352.0,274.7 352.8,276.0 353.5,277.6 354.2,279.3 354.8,280.9 355.2,282.8 355.4,285.1 355.6,287.6 355.9,289.8 356.2,291.3 356.8,291.8 357.7,290.8 358.9,288.6 360.2,285.7 361.5,282.8 362.6,280.6 363.6,279.5 364.3,280.0 364.8,281.7 365.1,284.0 365.4,286.4 365.8,288.3 366.3,289.1 366.9,288.8 367.6,287.8 368.3,286.4 369.0,284.6 369.7,282.7 370.4,280.9 371.1,278.8 371.8,276.0 372.4,273.2 373.1,270.7 373.8,269.0 374.5,268.6 375.2,269.9 375.9,272.5 376.5,276.0 377.2,279.7 377.9,282.9 378.6,285.0 379.3,285.9 380.0,285.9 380.8,285.5 381.5,285.0 382.3,284.7 383.1,285.1 383.9,286.1 384.8,287.5 385.6,289.2 386.5,291.0 387.3,292.7 388.2,294.3 389.0,296.0 389.9,297.8 390.7,299.7 391.6,301.2 392.4,302.3 393.3,302.5 394.2,301.5 395.2,299.3 396.1,296.6 397.1,293.9 398.0,291.9 398.9,291.2 399.7,292.1 400.5,294.3 401.3,297.1 402.1,300.0 402.8,302.3 403.5,303.5 404.1,303.5 404.7,302.7 405.3,301.4 405.9,299.8 406.5,298.1 407.1,296.4 407.8,294.4 408.6,291.7 409.4,288.9 410.2,286.5 411.0,285.1 411.7,285.1 412.4,287.2 413.1,291.2 413.8,296.0 414.4,301.0 415.1,305.1 415.8,307.6 416.5,308.2 417.3,307.6 418.1,306.3 418.9,304.5 419.7,302.8 420.4,301.5 421.0,300.4 421.6,299.1 422.2,297.9 422.7,296.9 423.3,296.3 424.0,296.4 424.8,297.6 425.6,299.9 426.5,302.7 427.4,305.3 428.3,307.1 429.1,307.6 429.9,306.2 430.7,303.4 431.5,299.8 432.2,296.2 433.0,293.1 433.7,291.2 434.4,290.6 435.1,290.8 435.8,291.5 436.4,292.6 437.1,294.0 437.8,295.3 438.5,297.0 439.2,299.4 440.0,301.9 440.7,304.3 441.4,306.0 442.2,306.8 443.0,306.4 443.7,305.1 444.5,303.2 445.3,301.1 446.1,299.0 447.0,297.2 448.0,295.8 449.0,294.4 450.1,293.1 451.2,291.8 452.3,290.4 453.2,289.1 454.0,287.7 454.7,286.3 455.3,284.9 455.9,283.5 456.6,282.2 457.2,280.9 457.9,279.6 458.6,278.1 459.2,276.7 459.9,275.5 460.6,274.6 461.3,274.1 462.0,274.2 462.6,274.9 463.3,275.9 463.9,276.9 464.6,277.8 465.4,278.2 466.3,278.0 467.2,277.3 468.1,276.4 469.1,275.6 470.0,275.2 470.9,275.4 471.7,276.5 472.4,278.3 473.0,280.4 473.7,282.6 474.4,284.7 475.1,286.2 475.9,287.2 476.7,287.8 477.5,288.3 478.4,288.7 479.3,289.1 480.2,289.6 481.1,290.4 482.1,291.5 483.1,292.6 484.2,293.4 485.2,294.0 486.2,293.9 487.2,293.2 488.2,291.9 489.2,290.3 490.2,288.5 491.2,286.5 492.1,284.5 493.0,282.4 493.9,280.1 494.8,277.7 495.6,275.3 496.4,273.0 497.3,270.9 498.2,268.9 499.0,266.9 499.9,265.0 500.8,263.4 501.6,262.2 502.4,261.5 503.1,261.5 503.8,262.1 504.5,263.0 505.2,264.2 505.9,265.5 506.6,266.6 507.4,267.7 508.1,269.1 508.9,270.5 509.8,271.8 510.7,272.8 511.7,273.4 512.9,273.6 514.2,273.4 515.5,273.0 516.9,272.4 518.2,271.7 519.4,270.9 520.4,269.9 521.3,268.5 522.1,267.1 522.9,265.7 523.7,264.6 524.5,264.1 525.4,264.2 526.2,264.8 527.1,265.7 528.0,266.7 528.8,267.6 529.6,268.3 530.4,268.8 531.1,269.3 531.8,269.7 532.4,270.0 533.1,270.1 533.9,270.0 534.7,269.5 535.6,268.5 536.4,267.4 537.3,266.4 538.2,265.7 539.0,265.8 539.8,266.7 540.5,268.4 541.1,270.4 541.8,272.5 542.5,274.5 543.3,276.0 544.1,277.1 544.9,278.1 545.8,278.8 546.7,279.5 547.5,280.0 548.4,280.3 549.3,280.6 550.1,280.9 551.0,281.0 551.9,280.8 552.7,280.3 553.5,279.4 554.3,277.8 555.0,275.7 555.7,273.1 556.3,270.5 557.0,268.0 557.7,265.8 558.4,264.0 559.1,262.4 559.8,261.0 560.5,259.5 561.3,258.0 562.0,256.4 562.8,254.5 563.7,252.3 564.7,250.1 565.5,248.0 566.3,246.3 566.8,245.0"/></g>
</g>
<rect x="102.0" y="45.8" width="464.8" height="461.8" fill="none" stroke="#000" stroke-width="1.6" stroke-linejoin="miter"/>
<path d="M95.0 63.96H102.0 M95.0 121.67H102.0 M95.0 179.38H102.0 M95.0 237.09H102.0 M95.0 294.80H102.0 M95.0 352.51H102.0 M95.0 410.22H102.0 M95.0 467.93H102.0 M218.96 507.6V514.6 M386.41 507.6V514.6 M553.86 507.6V514.6 M101.92 507.6V511.6 M131.40 507.6V511.6 M152.32 507.6V511.6 M168.55 507.6V511.6 M181.81 507.6V511.6 M193.02 507.6V511.6 M202.73 507.6V511.6 M211.30 507.6V511.6 M269.37 507.6V511.6 M298.85 507.6V511.6 M319.77 507.6V511.6 M336.00 507.6V511.6 M349.26 507.6V511.6 M360.47 507.6V511.6 M370.18 507.6V511.6 M378.75 507.6V511.6 M436.82 507.6V511.6 M466.30 507.6V511.6 M487.22 507.6V511.6 M503.45 507.6V511.6 M516.71 507.6V511.6 M527.92 507.6V511.6 M537.63 507.6V511.6 M546.20 507.6V511.6" stroke="#000" stroke-width="1.6" fill="none"/>
<rect x="302" y="56.1" width="255" height="66.5" rx="4" ry="4" fill="#fff" fill-opacity="0.8" stroke="#d6d6d6" stroke-width="1.6"/>
<line x1="307.9" y1="72.9" x2="354.2" y2="72.9" stroke="#1f77b4" stroke-width="4"/>
<g opacity="0.75"><line x1="307.9" y1="103.9" x2="354.2" y2="103.9" stroke="#ff7f0e" stroke-width="4"/></g>
<g font-family="Liberation Sans, sans-serif" fill="#000" stroke="#000" stroke-width="0.15"><text x="202.90" y="33.60" font-size="25.4" textLength="262.81" lengthAdjust="spacingAndGlyphs">Magnitude Spectrum</text><text x="258.90" y="573.00" font-size="21.2" textLength="150.27" lengthAdjust="spacingAndGlyphs">Frequency(Hz)</text><text x="367.50" y="80.90" font-size="21.2" textLength="179.45" lengthAdjust="spacingAndGlyphs">Pred. (smoothed)</text><text x="367.20" y="111.60" font-size="21.2" textLength="155.90" lengthAdjust="spacingAndGlyphs">GT (smoothed)</text><text x="61.00" y="73.16" font-size="21.2" textLength="25.20" lengthAdjust="spacingAndGlyphs">20</text><text x="61.70" y="130.87" font-size="21.2" textLength="23.61" lengthAdjust="spacingAndGlyphs">15</text><text x="61.00" y="188.58" font-size="21.2" textLength="24.70" lengthAdjust="spacingAndGlyphs">10</text><text x="74.70" y="246.29" font-size="21.2" textLength="13.05" lengthAdjust="spacingAndGlyphs">5</text><text x="74.00" y="304.00" font-size="21.2" textLength="13.02" lengthAdjust="spacingAndGlyphs">0</text><text x="57.30" y="361.71" font-size="21.2" textLength="29.16" lengthAdjust="spacingAndGlyphs">−5</text><text x="44.60" y="419.42" font-size="21.2" textLength="41.82" lengthAdjust="spacingAndGlyphs">−10</text><text x="44.30" y="477.13" font-size="21.2" textLength="41.77" lengthAdjust="spacingAndGlyphs">−15</text><text x="201.92" y="542.50" font-size="22.6" textLength="26.30" lengthAdjust="spacingAndGlyphs">10</text><text x="228.40" y="534.70" font-size="16.6" textLength="8.57" lengthAdjust="spacingAndGlyphs">2</text><text x="369.20" y="542.50" font-size="22.6" textLength="26.30" lengthAdjust="spacingAndGlyphs">10</text><text x="394.60" y="534.70" font-size="16.6" textLength="8.67" lengthAdjust="spacingAndGlyphs">3</text><text x="536.15" y="542.50" font-size="22.6" textLength="26.35" lengthAdjust="spacingAndGlyphs">10</text><text x="562.60" y="534.70" font-size="16.6" textLength="8.08" lengthAdjust="spacingAndGlyphs">4</text><text transform="translate(31.90,357.60) rotate(-90)" x="0" y="0" font-size="21.2" textLength="153.30" lengthAdjust="spacingAndGlyphs">Magnitude(dB)</text></g>
</svg></div></body></html>
